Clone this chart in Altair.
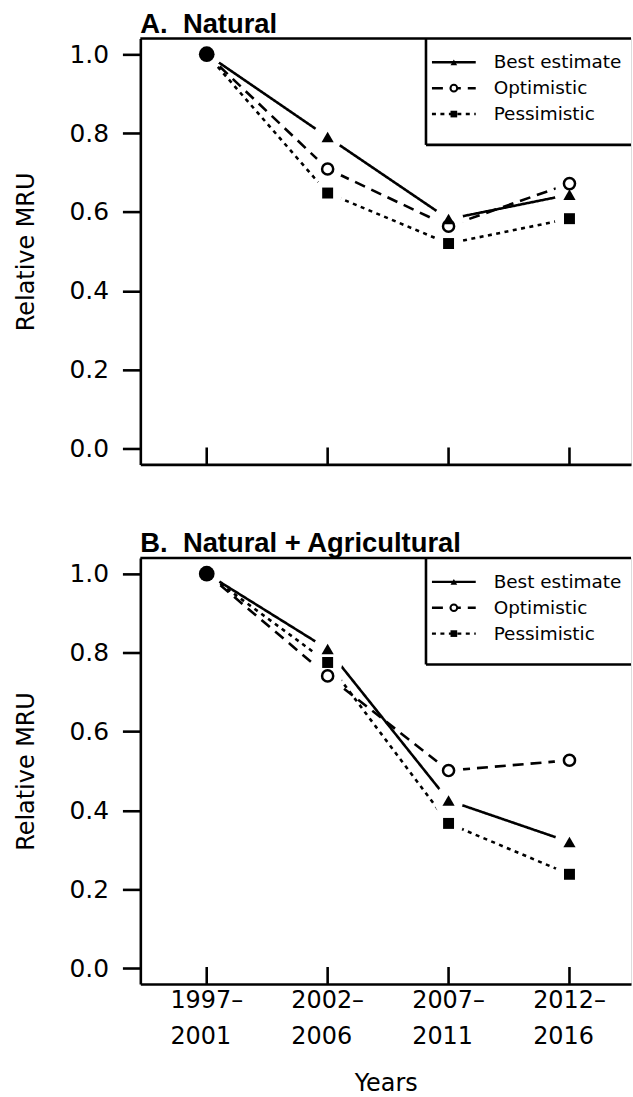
import altair as alt
import pandas as pd

# ---------------- data ----------------
periods = ["1997–2001", "2002–2006", "2007–2011", "2012–2016"]
series_names = ["Best estimate", "Optimistic", "Pessimistic"]

natural_best = [1.0, 0.790, 0.582, 0.644]
natural_opt = [1.0, 0.709, 0.564, 0.672]
natural_pes = [1.0, 0.648, 0.520, 0.583]

agri_best = [1.0, 0.809, 0.425, 0.320]
agri_opt = [1.0, 0.741, 0.501, 0.527]
agri_pes = [1.0, 0.775, 0.367, 0.238]

y_ticks = [0.0, 0.2, 0.4, 0.6, 0.8, 1.0]

# ---------------- style ----------------
W, H = 493, 428
FONT = "DejaVu Sans"
LW = 2.6
DASHES = [[1, 0], [11, 7], [4, 4.5]]
SHAPES = ["triangle-up", "circle", "square"]


def panel_df(best, opt, pes):
    rows = []
    for name, vals in zip(series_names, [best, opt, pes]):
        for p, v in zip(periods, vals):
            rows.append({"period": p, "series": name, "value": v})
    return pd.DataFrame(rows)


def make_panel(title, best, opt, pes, show_x):
    df = panel_df(best, opt, pes)
    xscale = alt.Scale(type="point", domain=periods, padding=0.529, align=0.519)
    if show_x:
        xaxis = alt.Axis(
            title="Years", labelExpr="[substring(datum.label,0,5), substring(datum.label,5)]",
            labelAlign="left", labelOffset=-37, labelAngle=0, labelFont=FONT, labelFontSize=24,
            labelLineHeight=36, labelPadding=5, labelBaseline="top", ticks=False, tickSize=0,
            domainColor="black", domainWidth=LW, labelColor="black",
            titleFont=FONT, titleFontSize=24, titleFontWeight="normal", titleColor="black",
            titleY=107, titleBaseline="alphabetic", labelOverlap=False,
        )
    else:
        xaxis = alt.Axis(title=None, labels=False, ticks=False, tickSize=0,
                         domainColor="black", domainWidth=LW)
    yaxis = alt.Axis(
        values=y_ticks, format=".1f", title="Relative MRU", grid=False,
        labelFont=FONT, labelFontSize=25, labelPadding=14, labelColor="black",
        tickSize=18, tickWidth=LW, tickColor="black",
        domainColor="black", domainWidth=LW,
        titleFont=FONT, titleFontSize=24, titleFontWeight="normal", titleColor="black",
        titleX=-107, titleY=H / 2, titleBaseline="alphabetic", titleAngle=270, titleAlign="center",
    )
    X = alt.X("period:N", scale=xscale, axis=xaxis, sort=periods)
    Y = alt.Y("value:Q", scale=alt.Scale(domain=[-0.04, 1.04], nice=False, zero=False), axis=yaxis)

    base = alt.Chart(df)
    lines = base.mark_line(color="black", strokeWidth=LW).encode(
        x=X, y=Y, detail="series:N",
        strokeDash=alt.StrokeDash("series:N", scale=alt.Scale(domain=series_names, range=DASHES), legend=None),
    )
    halos = base.mark_point(filled=True, color="white", opacity=1, size=870, shape="circle").encode(x=X, y=Y)
    later = base.transform_filter(alt.datum.period != periods[0])
    tri = later.transform_filter(alt.datum.series == series_names[0]).mark_point(
        shape="triangle-up", filled=True, color="black", opacity=1, size=150).encode(x=X, y=Y)
    circ = later.transform_filter(alt.datum.series == series_names[1]).mark_point(
        shape="circle", filled=False, color="black", strokeWidth=2.5, opacity=1, size=125).encode(x=X, y=Y)
    sq = later.transform_filter(alt.datum.series == series_names[2]).mark_point(
        shape="square", filled=True, color="black", opacity=1, size=121).encode(x=X, y=Y)
    start = base.transform_filter(
        (alt.datum.period == periods[0]) & (alt.datum.series == series_names[0])
    ).mark_point(shape="circle", filled=True, color="black", opacity=1, size=250).encode(x=X, y=Y)

    tick_df = pd.DataFrame({"period": periods})
    xticks = alt.Chart(tick_df).mark_rule(color="black", strokeWidth=LW).encode(
        x=alt.X("period:N", scale=xscale, sort=periods), y=alt.value(H), y2=alt.value(H - 17))

    one = pd.DataFrame({"k": [0]})
    top_rule = alt.Chart(one).mark_rule(color="black", strokeWidth=LW).encode(
        x=alt.value(0), x2=alt.value(W), y=alt.value(0))
    LX, LB = 287, 107
    leg_left = alt.Chart(one).mark_rule(color="black", strokeWidth=LW).encode(
        x=alt.value(LX), y=alt.value(0), y2=alt.value(LB))
    leg_bottom = alt.Chart(one).mark_rule(color="black", strokeWidth=LW).encode(
        x=alt.value(LX), x2=alt.value(W), y=alt.value(LB))

    legend_layers = []
    row_y = [24, 50, 76]
    for i, name in enumerate(series_names):
        ldf = pd.DataFrame({"series": [name]})
        lb = alt.Chart(ldf)
        legend_layers.append(lb.mark_rule(color="black", strokeWidth=2.4, strokeDash=DASHES[i]).encode(
            x=alt.value(293), x2=alt.value(337), y=alt.value(row_y[i])))
        if i == 1:
            sym = lb.mark_point(shape="circle", filled=True, fill="white", stroke="black",
                                strokeWidth=2, opacity=1, size=45)
        else:
            sym = lb.mark_point(shape=SHAPES[i], filled=True, color="black", opacity=1, size=45)
        legend_layers.append(sym.encode(x=alt.value(315), y=alt.value(row_y[i])))
        legend_layers.append(lb.mark_text(align="left", baseline="middle", font=FONT, fontSize=18.5,
                                          color="black").encode(
            x=alt.value(355), y=alt.value(row_y[i]), text="series:N"))

    chart = alt.layer(
        lines, halos, tri, circ, sq, start, xticks, top_rule, leg_left, leg_bottom, *legend_layers
    ).properties(
        width=W, height=H,
        title=alt.TitleParams(title, anchor="start", frame="group", font="Liberation Sans",
                              fontSize=27.5, fontWeight="bold", offset=-29, baseline="bottom",
                              color="black"),
    )
    return chart


panel_a = make_panel("A.\u00a0\u00a0Natural", natural_best, natural_opt, natural_pes, False)
panel_b = make_panel("B.\u00a0\u00a0Natural + Agricultural", agri_best, agri_opt, agri_pes, True)

chart = alt.vconcat(panel_a, panel_b, spacing=63).properties(
    padding={"left": 14, "top": 7, "right": 0, "bottom": 0}
).configure_view(stroke=None).configure(background="white")

chart.save("out.html", embed_options={"renderer": "svg", "actions": False})
